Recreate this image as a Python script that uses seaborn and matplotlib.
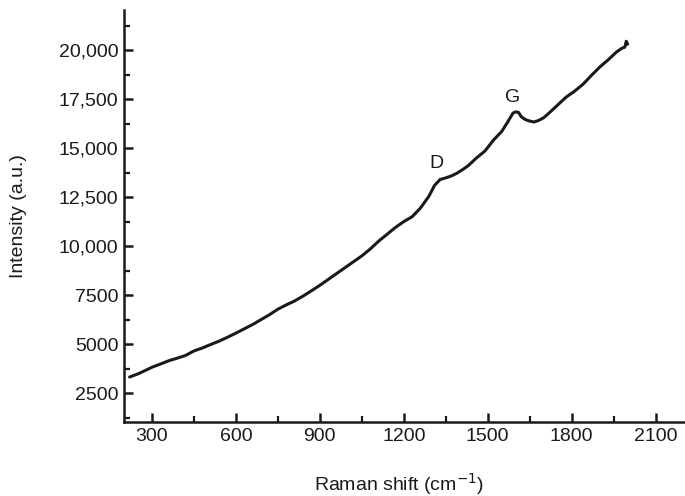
import matplotlib.pyplot as plt
import matplotlib.ticker as mticker
import seaborn as sns
import pandas as pd

# Raman spectrum
raman_shift = [220, 250, 280, 300, 330, 360, 390, 420, 450, 480, 510, 540, 570, 600,
               630, 660, 690, 720, 750, 780, 810, 840, 870, 900, 930, 960, 990, 1020,
               1050, 1080, 1110, 1140, 1170, 1200, 1230, 1260, 1290, 1310, 1330, 1350,
               1370, 1390, 1410, 1430, 1460, 1490, 1520, 1550, 1570, 1590, 1600, 1610,
               1620, 1635, 1650, 1665, 1680, 1700, 1720, 1750, 1780, 1810, 1840, 1870,
               1900, 1930, 1960, 1980, 1990, 1995, 2000]
intensity = [3320, 3480, 3680, 3820, 3980, 4150, 4280, 4420, 4650, 4800, 4980, 5150, 5350, 5560,
             5780, 6000, 6250, 6500, 6780, 7000, 7200, 7450, 7720, 8000, 8300, 8600, 8900, 9200,
             9500, 9850, 10250, 10600, 10950, 11250, 11500, 11950, 12550, 13100, 13400, 13480,
             13580, 13720, 13900, 14100, 14500, 14850, 15400, 15850, 16300, 16780, 16850, 16820,
             16600, 16450, 16380, 16330, 16400, 16550, 16800, 17200, 17600, 17900, 18250, 18700,
             19130, 19500, 19900, 20100, 20150, 20450, 20300]

peak_labels = ['D', 'G']
peak_x = [1318, 1590]
peak_y = [14235, 17600]

x_ticks = [300, 600, 900, 1200, 1500, 1800, 2100]
y_ticks = [2500, 5000, 7500, 10000, 12500, 15000, 17500, 20000]
y_tick_labels = ['2500', '5000', '7500', '10,000', '12,500', '15,000', '17,500', '20,000']

df = pd.DataFrame({'shift': raman_shift, 'intensity': intensity})

sns.set_style('ticks')
plt.rcParams['font.family'] = ['Liberation Sans', 'DejaVu Sans']

fig = plt.figure(figsize=(6.85, 4.96), dpi=100)
ax = fig.add_axes([0.181, 0.149, 0.819, 0.831])

sns.lineplot(data=df, x='shift', y='intensity', color='#1a1a1a', linewidth=2.2, ax=ax)

for lab, px, py in zip(peak_labels, peak_x, peak_y):
    ax.text(px, py, lab, fontsize=14, color='#1a1a1a', ha='center', va='center')

ax.set_xlim(200, 2205)
ax.set_ylim(1020, 22050)
ax.set_xticks(x_ticks)
ax.xaxis.set_minor_locator(mticker.MultipleLocator(150))
ax.set_yticks(y_ticks)
ax.set_yticklabels(y_tick_labels)
ax.yaxis.set_minor_locator(mticker.MultipleLocator(1250))

ax.tick_params(which='major', direction='in', length=6.5, width=1.8, labelsize=14, colors='#1a1a1a', pad=4)
ax.tick_params(which='minor', direction='in', length=4, width=1.6, colors='#1a1a1a')
for s in ['left', 'bottom']:
    ax.spines[s].set_linewidth(1.8)
    ax.spines[s].set_color('#1a1a1a')
sns.despine(ax=ax)

ax.set_xlabel('Raman shift (cm$^{-1}$)', fontsize=14, color='#1a1a1a')
ax.set_ylabel('Intensity (a.u.)', fontsize=14, color='#1a1a1a')
ax.xaxis.set_label_coords(0.49, -0.118)
ax.yaxis.set_label_coords(-0.172, 0.5)

fig.savefig('out.png', dpi=100)
